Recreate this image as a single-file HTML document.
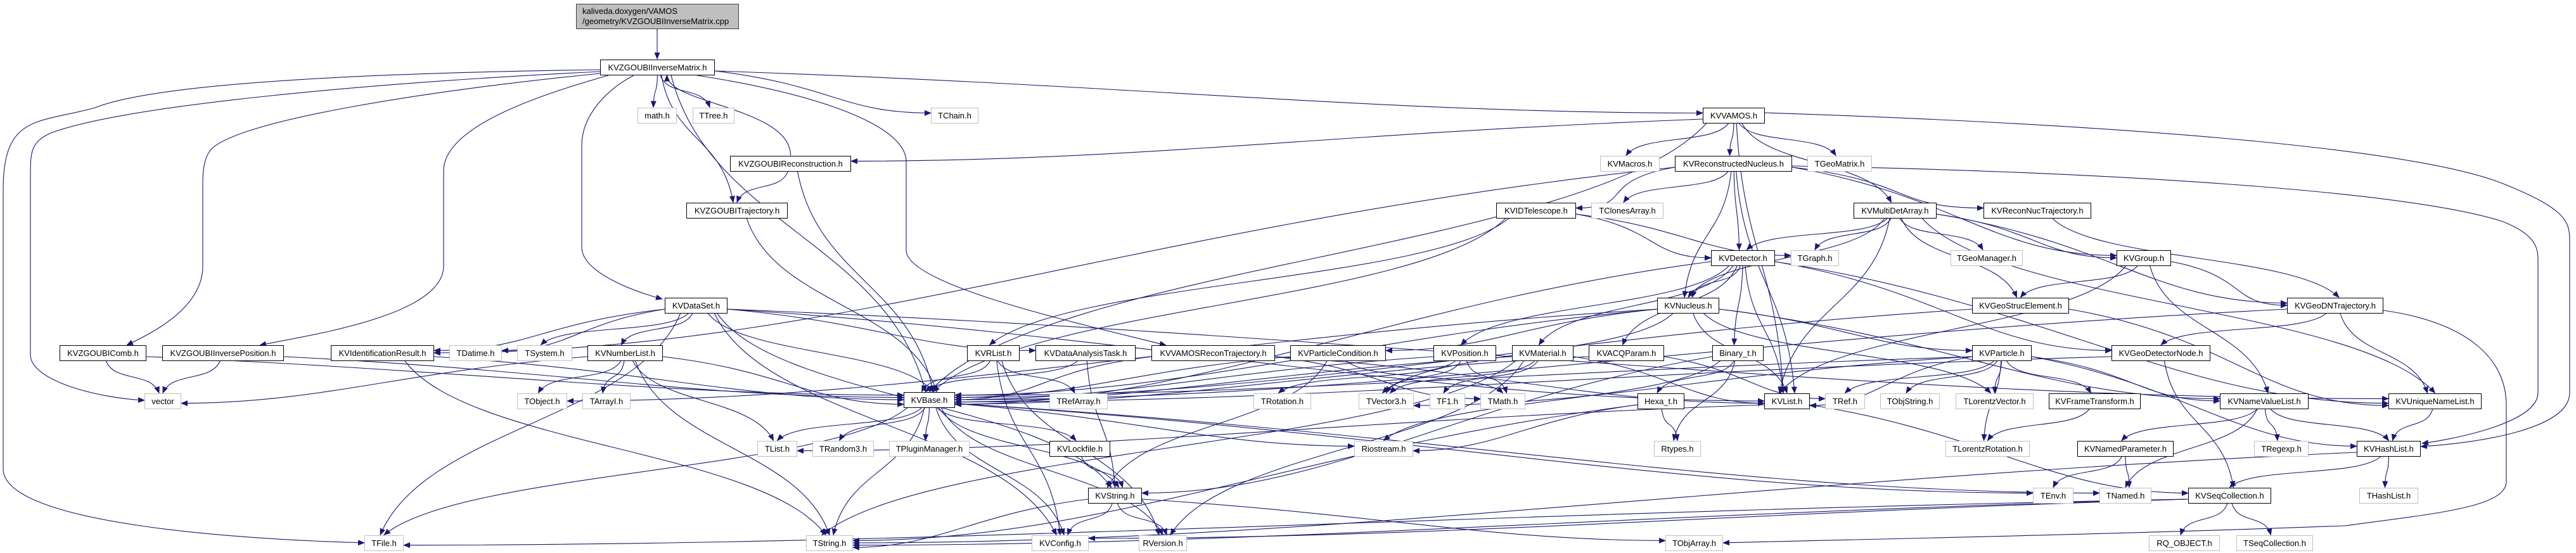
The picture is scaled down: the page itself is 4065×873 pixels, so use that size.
<!DOCTYPE html>
<html><head><meta charset="utf-8">
<style>
html,body{margin:0;padding:0;background:#fff;}
#wrap{position:relative;width:4065px;height:873px;overflow:hidden;background:#fff;}
svg{position:absolute;left:0;top:0;}
.n{position:absolute;box-sizing:border-box;height:25px;border:1.3px solid #000;background:#fff;font:13px "Liberation Sans",Arial,sans-serif;color:#000;text-align:center;line-height:23px;white-space:nowrap;}
.g{border-color:#bfbfbf;}
#top{position:absolute;left:909px;top:6px;width:257px;height:40px;box-sizing:border-box;border:1.3px solid #404040;background:#bfbfbf;font:13px "Liberation Sans",Arial,sans-serif;line-height:16px;padding:3px 0 0 9px;white-space:nowrap;}
</style></head><body><div id="wrap">
<svg id="s" width="4065" height="873"><defs><marker id="a" markerWidth="11" markerHeight="9" refX="10" refY="4.5" orient="auto" markerUnits="userSpaceOnUse"><path d="M0,0 L11,4.5 L0,9 z" fill="#191970"/></marker></defs><g id="eg" fill="none" stroke="#191970" stroke-width="1.1"></g></svg>
<div id="top">kaliveda.doxygen/VAMOS<br>/geometry/KVZGOUBIInverseMatrix.cpp</div>
<div id="nodes"></div>
</div>
<script>
var N={
IM:["KVZGOUBIInverseMatrix.h",947,1128,106,1],
comb:["KVZGOUBIComb.h",94,231,557,1],
ipos:["KVZGOUBIInversePosition.h",256,448,557,1],
idr:["KVIdentificationResult.h",522,685,557,1],
tdat:["TDatime.h",709,792,557,0],
tsys:["TSystem.h",816,903,557,0],
numl:["KVNumberList.h",927,1046,557,1],
vec:["vector",228,286,633,0],
tobj:["TObject.h",816,895,633,0],
tarr:["TArrayI.h",919,995,633,0],
tfile:["TFile.h",575,637,857,0],
math:["math.h",1006,1068,182,0],
ttree:["TTree.h",1093,1159,182,0],
tchain:["TChain.h",1469,1544,182,0],
rec:["KVZGOUBIReconstruction.h",1152,1343,258,1],
traj:["KVZGOUBITrajectory.h",1083,1243,332,1],
ds:["KVDataSet.h",1049,1148,482,1],
rl:["KVRList.h",1526,1609,557,1],
dat:["KVDataAnalysisTask.h",1634,1792,557,1],
vrt:["KVVAMOSReconTrajectory.h",1817,2012,557,1],
base:["KVBase.h",1426,1507,631,1],
tra:["TRefArray.h",1656,1748,633,0],
trot:["TRotation.h",1978,2069,633,0],
tlist:["TList.h",1195,1258,708,0],
trnd:["TRandom3.h",1282,1379,708,0],
tpm:["TPluginManager.h",1403,1530,708,0],
lock:["KVLockfile.h",1656,1752,708,1],
str:["KVString.h",1717,1802,782,1],
tstr:["TString.h",1272,1346,857,0],
cfg:["KVConfig.h",1628,1718,857,0],
rver:["RVersion.h",1797,1873,857,0],
vamos:["KVVAMOS.h",2687,2785,182,1],
mac:["KVMacros.h",2525,2619,258,0],
rn:["KVReconstructedNucleus.h",2643,2828,258,1],
tgm:["TGeoMatrix.h",2852,2954,258,0],
idt:["KVIDTelescope.h",2361,2487,332,1],
tca:["TClonesArray.h",2511,2625,332,0],
mda:["KVMultiDetArray.h",2925,3056,332,1],
det:["KVDetector.h",2700,2801,407,1],
tgr:["TGraph.h",2826,2902,407,0],
nuc:["KVNucleus.h",2615,2713,482,1],
pc:["KVParticleCondition.h",2036,2187,557,1],
pos:["KVPosition.h",2262,2361,557,1],
mat:["KVMaterial.h",2386,2483,557,1],
acq:["KVACQParam.h",2507,2626,557,1],
bin:["Binary_t.h",2702,2783,557,1],
tv3:["TVector3.h",2144,2231,633,0],
tf1:["TF1.h",2256,2312,633,0],
tmath:["TMath.h",2336,2407,633,0],
hexa:["Hexa_t.h",2584,2658,633,1],
kvl:["KVList.h",2784,2856,633,1],
tref:["TRef.h",2880,2943,633,0],
tos:["TObjString.h",2967,3061,633,0],
rio:["Riostream.h",2137,2230,708,0],
rty:["Rtypes.h",2610,2684,708,0],
toa:["TObjArray.h",2628,2719,857,0],
rnt:["KVReconNucTrajectory.h",3130,3300,332,1],
tgeo:["TGeoManager.h",3078,3192,407,0],
grp:["KVGroup.h",3340,3426,407,1],
gse:["KVGeoStrucElement.h",3112,3265,482,1],
gdn:["KVGeoDNTrajectory.h",3609,3761,482,1],
par:["KVParticle.h",3112,3206,557,1],
gdnode:["KVGeoDetectorNode.h",3332,3488,557,1],
tlv:["TLorentzVector.h",3086,3209,633,0],
ft:["KVFrameTransform.h",3233,3378,633,1],
nvl:["KVNameValueList.h",3503,3643,633,1],
unl:["KVUniqueNameList.h",3769,3916,633,1],
tlr:["TLorentzRotation.h",3070,3203,708,0],
np:["KVNamedParameter.h",3278,3430,708,1],
treg:["TRegexp.h",3557,3643,708,0],
hl:["KVHashList.h",3719,3820,708,1],
tenv:["TEnv.h",3208,3272,782,0],
tnam:["TNamed.h",3313,3395,782,0],
seq:["KVSeqCollection.h",3453,3584,782,1],
thl:["THashList.h",3723,3816,782,0],
rq:["RQ_OBJECT.h",3391,3503,857,0],
tsc:["TSeqCollection.h",3529,3650,857,0]
};
var OV={
"IM>tfile":"M947,110 C600,115 250,130 150,170 C60,195 5,180 5,300 L5,740 C5,830 400,852 575,857",
"IM>vec":"M947,113 C600,130 200,165 80,210 C48,225 48,240 48,280 L48,560 C48,600 150,628 228,632",
"IM>comb":"M947,116 C700,140 360,190 330,240 C320,255 320,280 320,290 L320,420 C320,490 230,530 200,545",
"IM>ipos":"M960,119 C850,150 700,200 700,270 L700,420 C700,500 480,530 410,545",
"IM>ds":"M1000,119 C960,140 918,180 918,230 L918,390 C918,430 1000,460 1045,472",
"IM>vrt":"M1100,119 C1300,150 1430,200 1430,255 L1430,395 C1430,450 1700,510 1840,545",
"vamos>hl":"M2785,178 C3300,195 3800,230 3950,290 C4050,330 4055,350 4055,380 L4055,620 C4055,680 3900,700 3820,705",
"rn>hl":"M2828,262 C3300,270 3800,300 3950,350 C4000,370 4005,390 4005,410 L4005,620 C4005,670 3860,695 3822,700",
"gdn>toa":"M3761,490 C3900,510 3955,570 3955,640 L3955,760 C3955,800 3850,810 3700,830 C3300,845 2900,852 2719,857"
};
var E="IM>tfile IM>vec IM>comb IM>ipos IM>ds IM>math IM>ttree IM>traj IM>base IM>tchain IM>vamos IM>vrt rec>IM vamos>rec vamos>base vamos>mac vamos>rn vamos>tgm vamos>mda vamos>hl vamos>kvl rec>traj rec>base traj>base comb>vec comb>base ipos>vec ipos>base idr>base idr>tstr ds>idr ds>tdat ds>tsys ds>numl ds>base ds>tfile ds>dat ds>kvl ds>str ds>unl ds>cfg numl>vec numl>tobj numl>tarr numl>tlist numl>tstr numl>base rl>base rl>tra rl>cfg rl>rver dat>base dat>str vrt>base vrt>kvl vrt>tmath base>tlist base>trnd base>tpm base>lock base>str base>tstr base>cfg base>rver base>tfile base>tenv base>tnam base>rio lock>str str>tstr str>cfg str>rver str>toa rn>idt rn>tca rn>det rn>nuc rn>kvl rn>rnt rn>hl rn>idr rn>grp idt>det idt>tgr idt>base idt>rl mda>det mda>tgr mda>nuc mda>tgeo mda>gse mda>grp mda>gdn mda>unl mda>kvl det>nuc det>pos det>mat det>acq det>bin det>kvl det>gdnode det>unl det>base nuc>par nuc>base nuc>tv3 nuc>kvl nuc>tlv nuc>nvl nuc>pc nuc>tobj pc>base pc>str pc>tmath pos>tv3 pos>tmath pos>trot pos>base mat>tv3 mat>tf1 mat>base mat>kvl mat>rver mat>tstr acq>base acq>tref bin>hexa bin>rty bin>rio bin>str hexa>rty hexa>rio hexa>tstr kvl>seq kvl>tlist par>tv3 par>tlv par>ft par>nvl par>kvl par>tref par>tos par>hl par>tlr par>base ft>tlr nvl>np nvl>tnam nvl>treg nvl>hl np>tenv np>tnam hl>seq hl>thl hl>tstr seq>rq seq>tsc seq>cfg seq>tstr seq>tfile unl>hl grp>gse grp>gdn grp>nvl grp>kvl gse>base gse>unl gdn>gdnode gdn>unl gdn>base gdn>toa gdnode>base gdnode>seq rnt>gdn".split(" ");
var h="",H=25;
for(var k in N){var n=N[k];h+='<div class="n'+(n[4]?'':' g')+'" style="left:'+n[1]+'px;top:'+(n[3]-12.5)+'px;width:'+(n[2]-n[1])+'px">'+n[0]+'</div>';}
document.getElementById("nodes").innerHTML=h;
var cnt={},p="";
E.forEach(function(e){var s=N[e.split(">")[0]],t=N[e.split(">")[1]];if(!s||!t)return;
if(OV[e]){p+='<path d="'+OV[e]+'" marker-end="url(#a)"/>';return;}
var sx=(s[1]+s[2])/2,tx=(t[1]+t[2])/2,dy=t[3]-s[3],dx=tx-sx,x1,y1,x2,y2,d;
var key=e.split(">")[1];cnt[key]=(cnt[key]||0)+1;var off=((cnt[key]%5)-2)*6;
if(dy>0){
 x1=sx+Math.max(-(s[2]-s[1])/2+6,Math.min((s[2]-s[1])/2-6,dx*0.05));y1=s[3]+H/2;
 if(Math.abs(dx)>4*dy){ x2=dx>0?t[1]:t[2]; y2=t[3]+off*0.6; x1=dx>0?s[2]:s[1]; y1=s[3]+6;
  d="M"+x1+","+y1+" C"+(x1+dx*0.4)+","+(y1+dy*0.3)+" "+(x2-dx*0.3)+","+y2+" "+x2+","+y2;}
 else{ x2=tx+off;y2=t[3]-H/2;
  d="M"+x1+","+y1+" C"+(x1+(x2-x1)*0.15)+","+(y1+dy*0.45)+" "+(x2-(x2-x1)*0.15)+","+(y2-dy*0.45)+" "+x2+","+y2;}
}else if(dy<0){
 x1=sx;y1=s[3]-H/2;x2=tx+15;y2=t[3]+H/2;
 d="M"+x1+","+y1+" C"+x1+","+(y1+dy*0.5)+" "+x2+","+(y2-dy*0.3)+" "+x2+","+y2;
}else{
 x1=dx>0?s[2]:s[1];y1=s[3];x2=dx>0?t[1]:t[2];y2=t[3];
 d="M"+x1+","+y1+" C"+(x1+dx*0.3)+","+(y1+40)+" "+(x2-dx*0.3)+","+(y2+40)+" "+x2+","+y2;
}
p+='<path d="'+d+'" marker-end="url(#a)"/>';});
p+='<path d="M1037,46 L1037,93" marker-end="url(#a)"/>';
document.getElementById("eg").innerHTML=p;
</script>
</body></html>
